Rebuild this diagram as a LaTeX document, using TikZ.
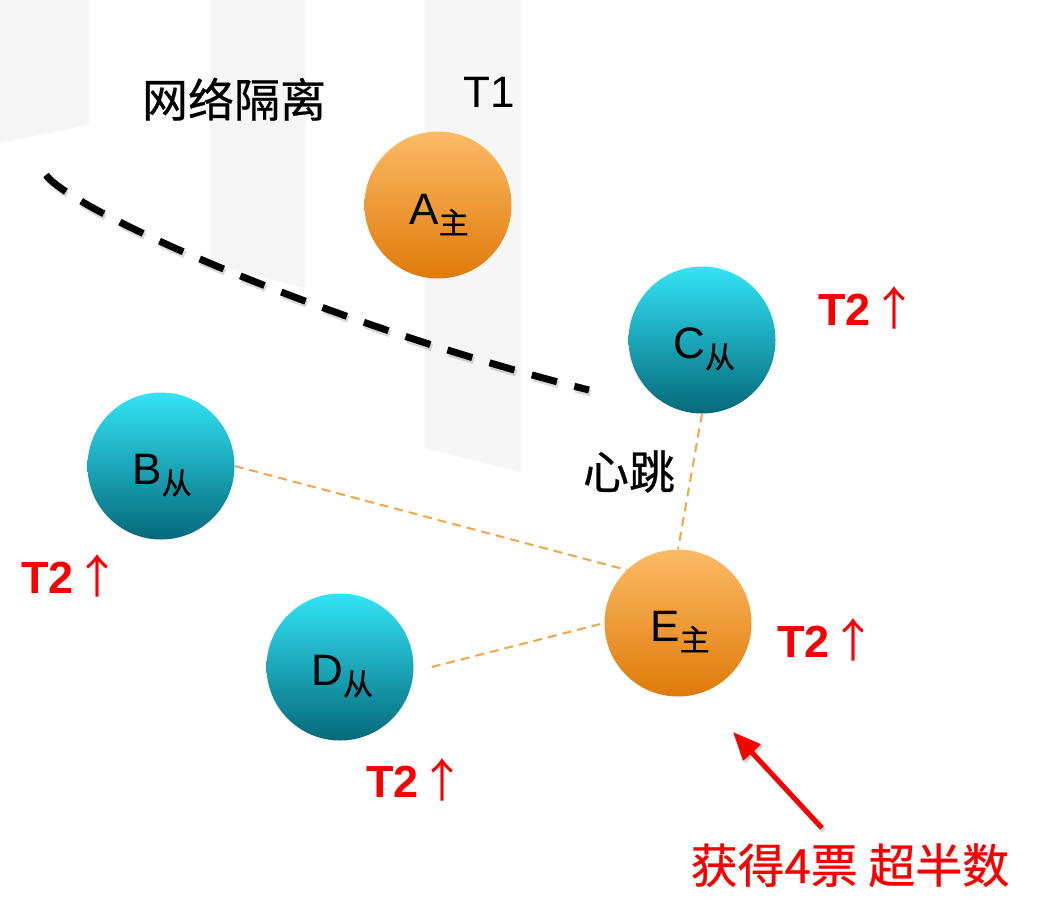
\documentclass[tikz,border=0pt]{standalone}
\usepackage{fontspec}
\setmainfont{Liberation Sans}
\newfontfamily\cjk{Noto Sans CJK SC}
\newfontfamily\cjkb[FakeBold=0.6]{Noto Sans CJK SC}
\usetikzlibrary{arrows.meta}
\definecolor{tealTop}{HTML}{33E4F6}
\definecolor{tealMid}{HTML}{0AAABC}
\definecolor{tealBot}{HTML}{04697A}
\definecolor{orTop}{HTML}{FCBB66}
\definecolor{orMid}{HTML}{F6A542}
\definecolor{orBot}{HTML}{DF7A0A}
\definecolor{stripeGray}{HTML}{F6F6F6}
\definecolor{hbLine}{HTML}{F2A645}
\definecolor{hotRed}{HTML}{F80000}
\newcommand\balltext[2]{{\fontsize{44}{44}\selectfont #1}\raisebox{-10pt}{\cjkb\fontsize{30}{30}\selectfont #2}}
\newcommand\tuplabel{{\bfseries\fontsize{45}{45}\selectfont T2}\hspace{1pt}{\cjk\fontsize{46}{46}\selectfont ↑}}
\tikzset{
  ball/.style={circle, inner sep=0pt, minimum size=147pt},
  tealball/.style={ball, top color=tealTop, middle color=tealMid, bottom color=tealBot},
  orball/.style={ball, top color=orTop, middle color=orMid, bottom color=orBot},
  balllab/.style={anchor=base, inner sep=0pt, text=black},
  cjklab/.style={anchor=base, inner sep=0pt, font=\cjkb\fontsize{46}{46}\selectfont},
  uplab/.style={anchor=base west, inner sep=0pt, text=hotRed},
  isodash/.style={line width=7pt, dash pattern=on 26pt off 18pt, black},
  isoshadow/.style={line width=7pt, dash pattern=on 26pt off 18pt, black, opacity=0.15},
  hbeat/.style={line width=2pt, dash pattern=on 9pt off 6pt, hbLine},
  redarrow/.style={line width=5pt, hotRed, -{Triangle[length=28pt,width=23pt]}},
  redshadow/.style={line width=5pt, black, opacity=0.15, -{Triangle[length=28pt,width=23pt]}},
}
\begin{document}
\begin{tikzpicture}[x=1pt,y=-1pt]
\useasboundingbox (0,0) rectangle (1050,898);
\fill[white] (0,0) rectangle (1050,898);
% background stripes
\fill[stripeGray] (0,0) -- (89,0) -- (89,125) -- (0,143) -- cycle;
\fill[stripeGray] (210,0) -- (305,0) -- (305,288) -- (210,264) -- cycle;
\fill[stripeGray] (425,0) -- (521,0) -- (521,472) -- (425,448) -- cycle;
% network partition line
\coordinate (dashS) at (46,175);
\coordinate (dashE) at (589,390);
\draw[isoshadow, transform canvas={shift={(1.5pt,-3pt)}}] (dashS) .. controls (74,212) and (330,325) .. (dashE);
\draw[isodash] (dashS) .. controls (74,212) and (330,325) .. (dashE);
% nodes
\node[orball] (A) at (438,205) {};
\node[tealball] (C) at (702,340) {};
\node[tealball] (B) at (161,466) {};
\node[tealball] (D) at (340,667) {};
\node[orball] (E) at (678,623) {};
\node[balllab] (Alab) at ([xshift=1pt,yshift=-19pt]A.center) {\balltext{A}{主}};
\node[balllab] (Clab) at ([xshift=2pt,yshift=-18pt]C.center) {\balltext{C}{从}};
\node[balllab] (Blab) at ([xshift=1pt,yshift=-18pt]B.center) {\balltext{B}{从}};
\node[balllab] (Dlab) at ([xshift=2pt,yshift=-18pt]D.center) {\balltext{D}{从}};
\node[balllab] (Elab) at ([xshift=2pt,yshift=-18pt]E.center) {\balltext{E}{主}};
% heartbeat connectors
\draw[hbeat] (B.east) -- (E.134);
\draw[hbeat] ([xshift=18pt]D.east) -- (E.west);
\draw[hbeat] (C.south) -- (E.north);
% texts
\node[cjklab] (iso) at (234,117) {网络隔离};
\node[anchor=base west, inner sep=0pt, font=\fontsize{44}{44}\selectfont] (t1) at (463,107) {T1};
\node[cjklab] (hb) at (629,489) {心跳};
\node[uplab] (upC) at (818,325) {\tuplabel};
\node[uplab] (upE) at (777,657) {\tuplabel};
\node[uplab] (upB) at (21,593) {\tuplabel};
\node[uplab] (upD) at (366,797) {\tuplabel};
\node[cjklab, text=hotRed, font=\cjkb\fontsize{47}{47}\selectfont] (votes) at (850,883) {获得4票 超半数};
% red arrow
\coordinate (arrTail) at (822,828);
\coordinate (arrTip) at (733,732);
\draw[redshadow, transform canvas={shift={(2pt,-3pt)}}] (arrTail) -- (arrTip);
\draw[redarrow] (arrTail) -- (arrTip);
\end{tikzpicture}
\end{document}
